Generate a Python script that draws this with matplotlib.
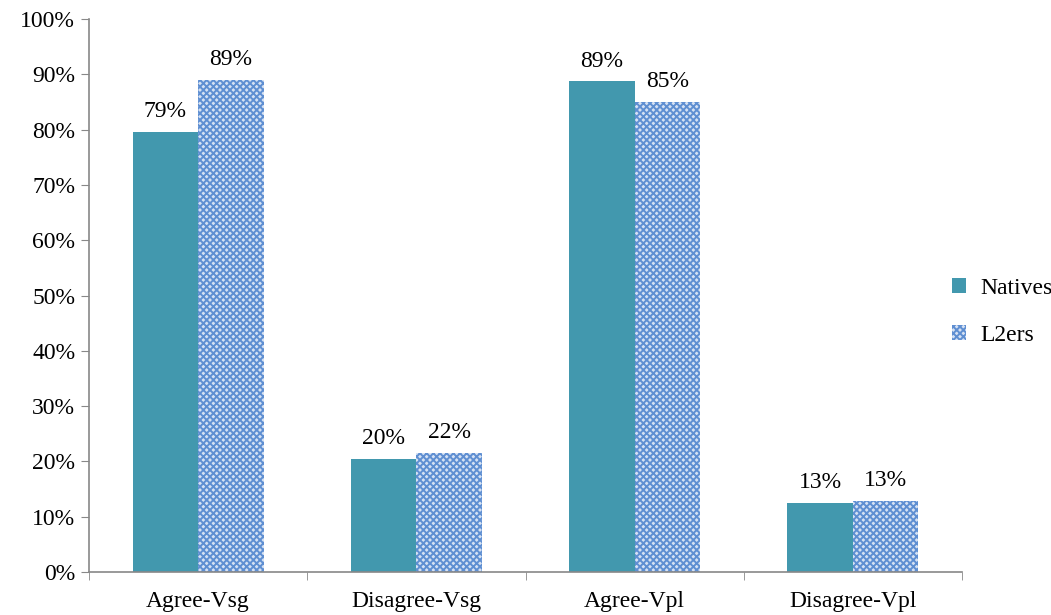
import matplotlib
matplotlib.use('Agg')
import matplotlib.pyplot as plt
import numpy as np

plt.rcParams['font.family'] = ['Liberation Serif', 'DejaVu Serif']
plt.rcParams['hatch.linewidth'] = 1.4

categories = ['Agree-Vsg', 'Disagree-Vsg', 'Agree-Vpl', 'Disagree-Vpl']
natives = [0.795, 0.205, 0.887, 0.125]
l2ers = [0.89, 0.215, 0.85, 0.128]
natives_lbl = ['79%', '20%', '89%', '13%']
l2ers_lbl = ['89%', '22%', '85%', '13%']

fs = 17

fig = plt.figure(figsize=(10.51, 6.15), dpi=100)
ax = fig.add_axes([0.0847, 0.0699, 0.8306, 0.8992])

x = np.arange(len(categories))
w = 0.30
b1 = ax.bar(x - w/2, natives, w, color='#4298ae', label='Natives')
b2 = ax.bar(x + w/2, l2ers, w, facecolor='#d6e2f4', edgecolor='#5f8fd2',
            hatch='xxxxx', linewidth=0, label='L2ers')

for bars, lbls in ((b1, natives_lbl), (b2, l2ers_lbl)):
    for r, t in zip(bars, lbls):
        ax.text(r.get_x() + r.get_width()/2, r.get_height() + 0.018, t,
                ha='center', va='bottom', fontsize=fs)

ax.set_xlim(-0.5, len(categories) - 0.5)
ax.set_ylim(0, 1.0)
yt = np.arange(0, 1.01, 0.1)
ax.set_yticks(yt)
ax.set_yticklabels(['%d%%' % round(v*100) for v in yt], fontsize=fs)
ax.set_xticks(x)
ax.set_xticklabels(categories, fontsize=fs)
ax.set_xticks(np.arange(-0.5, len(categories)), minor=True)
ax.tick_params(axis='x', which='major', length=0, pad=14)
ax.tick_params(axis='x', which='minor', length=6, color='#888888', direction='out')
ax.tick_params(axis='y', length=6, color='#888888', direction='out', pad=4)

for s in ('top', 'right'):
    ax.spines[s].set_visible(False)
for s in ('left', 'bottom'):
    ax.spines[s].set_color('#888888')
    ax.spines[s].set_linewidth(1.2)

fig.legend(handles=[b1, b2], labels=['Natives', 'L2ers'], loc='center left',
           bbox_to_anchor=(952/1051, (615-312)/615), frameon=False,
           fontsize=fs, handlelength=0.6, handleheight=0.6, labelspacing=1.1,
           handletextpad=0.6, borderaxespad=0, borderpad=0)

plt.savefig('out.png', dpi=100)
